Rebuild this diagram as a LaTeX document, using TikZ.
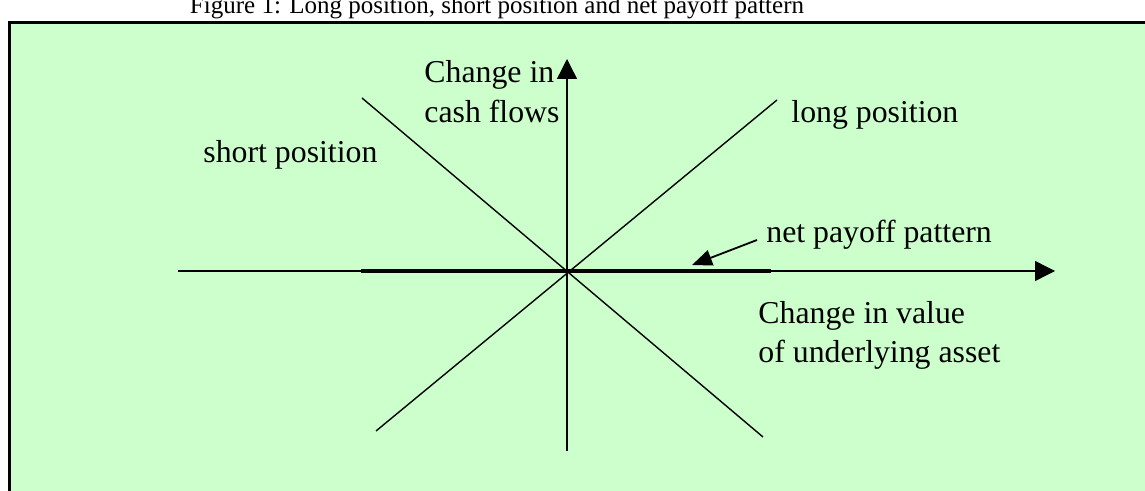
\documentclass[tikz,border=0pt]{standalone}
\usepackage{fontspec}
\setmainfont{Liberation Serif}
\usetikzlibrary{arrows.meta}
\definecolor{bg}{HTML}{CCFFCC}
\begin{document}
\begin{tikzpicture}[x=0.5pt,y=-0.5pt,
  lbl/.style={inner sep=0pt,anchor=base west,font=\fontsize{15.9}{19.5}\selectfont},
  ttl/.style={inner sep=0pt,anchor=base,font=\fontsize{12.5}{15}\selectfont},
  ax/.style={line width=0.7pt,-{Triangle[length=10pt,width=10pt]}},
  ln/.style={line width=0.7pt},
  thick line/.style={line width=2.3pt},
  pointer/.style={line width=0.9pt,-{Triangle[length=10pt,width=8pt]}}]
\useasboundingbox (0,0) rectangle (1145,491);
\fill[white] (0,0) rectangle (1145,491);
\filldraw[fill=bg, draw=black, line width=1.6pt] (9.5,22.5) rectangle (1165,515);
% title
\node[ttl] (title) at (497,14) {Figure 1: Long position, short position and net payoff pattern};
% coordinates
\coordinate (O) at (567,271);
\coordinate (xl) at (178,271);
\coordinate (xr) at (1055,271);
\coordinate (yb) at (567,451);
\coordinate (yt) at (567,59);
\coordinate (lb) at (376,431);
\coordinate (lt) at (777,100);
\coordinate (st) at (362,98);
\coordinate (sb) at (763,437);
\coordinate (nl) at (361,271);
\coordinate (nr) at (771,271);
\coordinate (ps) at (757,240);
\coordinate (pt) at (692,265);
% lines
\draw[ln] (lb) -- (lt);
\draw[ln] (st) -- (sb);
\draw[thick line] (nl) -- (nr);
\draw[ax] (xl) -- (xr);
\draw[ax] (yb) -- (yt);
\draw[pointer] (ps) -- (pt);
% labels
\node[lbl] (cf1) at (424,83) {Change in};
\node[lbl] (cf2) at (424,123) {cash flows};
\node[lbl] (long) at (791,123) {long position};
\node[lbl] (short) at (203,163) {short position};
\node[lbl] (net) at (766,243) {net payoff pattern};
\node[lbl] (cv1) at (758,324) {Change in value};
\node[lbl] (cv2) at (758,363) {of underlying asset};
\end{tikzpicture}
\end{document}
